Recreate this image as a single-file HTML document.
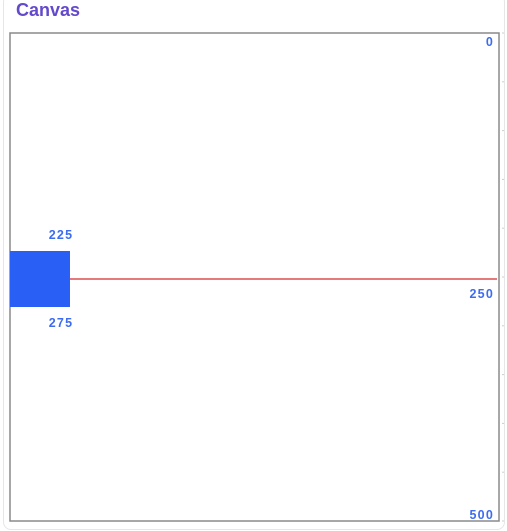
<!DOCTYPE html>
<html><head><meta charset="utf-8"><style>
html,body{margin:0;padding:0;background:#fff;}
body{width:507px;height:531px;position:relative;overflow:hidden;font-family:"Liberation Sans",sans-serif;}
.card{position:absolute;left:3px;top:-6px;width:500px;height:534px;border:1px solid #e6e6e6;border-radius:8px;}
.title{position:absolute;left:16px;top:0px;font-size:18px;font-weight:bold;color:#6449cc;}
svg{position:absolute;left:0;top:0;}
text{font-family:"Liberation Sans",sans-serif;font-weight:bold;font-size:12.5px;fill:#3d6cf0;letter-spacing:1.2px;}
</style></head><body>
<div class="card"></div>
<div class="title">Canvas</div>
<svg width="507" height="531" id="chart"></svg>
<script>
const yTicks=[0,250,500];
const markerValue=[250];
const rectRange=[225,275];
const minorTicks=[0,50,100,150,200,250,300,350,400,450,500];
const svg=document.getElementById('chart');
const NS='http://www.w3.org/2000/svg';
const top0=33,bot=521,left=10,right=499;
function y(v){return top0+(v-0)/(500-0)*(bot-top0);}
function yc(v){return 279+(v-250)*((bot-top0)/500);}
function el(t,a){const e=document.createElementNS(NS,t);for(const k in a)e.setAttribute(k,a[k]);svg.appendChild(e);return e;}
let f=el('rect',{x:left,y:top0,width:right-left,height:bot-top0,fill:'#fff',stroke:'#8a8a8a','stroke-width':1.5});


minorTicks.forEach(v=>{const t=el('line',{x1:502,x2:504,y1:y(v),y2:y(v),stroke:'#ccc','stroke-width':1});

});
const ly=yc(markerValue[0]);
const rh=(rectRange[1]-rectRange[0])*1.12;
const r=el('rect',{x:left,y:ly-rh/2,width:60,height:rh,fill:'#2a5ff5'});


const l=el('line',{x1:70,x2:497,y1:ly,y2:ly,stroke:'#d42a2a','stroke-width':1.2});


const pos={0:46,250:ly+19,500:519};
yTicks.forEach(v=>{const t=el('text',{x:494,y:pos[v],'text-anchor':'end'});t.textContent=v;

});
const t1=el('text',{x:61,y:ly-rh/2-12,'text-anchor':'middle'});t1.textContent=rectRange[0];


const t2=el('text',{x:61,y:ly+rh/2+20,'text-anchor':'middle'});t2.textContent=rectRange[1];


</script>
</body></html>
